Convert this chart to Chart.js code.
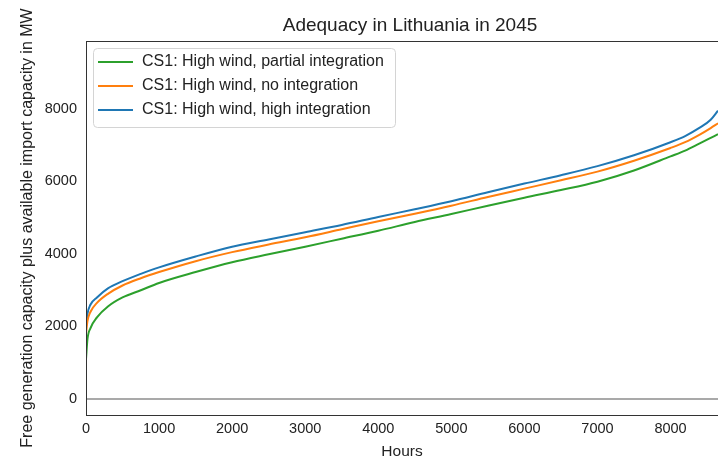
<!DOCTYPE html>
<html>
<head>
<meta charset="utf-8">
<script src="https://cdn.jsdelivr.net/npm/chart.js@4/dist/chart.umd.min.js"></script>
<style>
  html, body { margin: 0; padding: 0; background: #fff; }
  #wrap { width: 718px; height: 461px; }
</style>
</head>
<body>
<div id="wrap"><canvas id="c"></canvas></div>
<script>
// hours along the duration curve
const hours = [0, 20, 60, 150, 300, 500, 750, 1000, 1500, 2000, 2500, 3000, 3500, 4000,
  4500, 5000, 5500, 6000, 6500, 7000, 7500, 8000, 8200, 8400, 8550, 8650];

const partialIntegration = [1100, 1650, 1950, 2250, 2550, 2800, 3000, 3200, 3500, 3770, 3990, 4200, 4420, 4640,
  4880, 5100, 5330, 5550, 5760, 5990, 6300, 6690, 6850, 7050, 7200, 7300];
const noIntegration = [1800, 2150, 2400, 2650, 2900, 3130, 3330, 3500, 3800, 4050, 4260, 4460, 4680, 4900,
  5110, 5330, 5570, 5800, 6030, 6270, 6570, 6920, 7080, 7290, 7470, 7600];
const highIntegration = [2000, 2350, 2600, 2800, 3050, 3250, 3450, 3630, 3930, 4200, 4400, 4600, 4800, 5020,
  5230, 5450, 5700, 5940, 6170, 6420, 6720, 7080, 7250, 7480, 7700, 7950];

const seriesNames = ['CS1: High wind, partial integration', 'CS1: High wind, no integration', 'CS1: High wind, high integration'];
const xTicks = [0, 1000, 2000, 3000, 4000, 5000, 6000, 7000, 8000];
const yTicks = [0, 2000, 4000, 6000, 8000];

const FONT = "'Liberation Sans', Arial, sans-serif";

const pts = vals => vals.map((v, i) => ({ x: hours[i], y: v }));

// title, frame and in-plot legend
const decor = {
  id: 'decor',
  afterDraw(chart) {
    const ctx = chart.ctx;
    const a = chart.chartArea;
    ctx.save();
    ctx.strokeStyle = '#333';
    ctx.lineWidth = 1;
    ctx.strokeRect(a.left + 0.5, a.top + 0.5, a.right - a.left, a.bottom - a.top);

    ctx.fillStyle = '#222';
    ctx.font = '19px ' + FONT;
    ctx.textAlign = 'center';
    ctx.textBaseline = 'middle';
    ctx.fillText('Adequacy in Lithuania in 2045', 410, 26);

    // legend box
    const bx = 93, by = 48, bw = 302, bh = 79;
    ctx.fillStyle = 'rgba(255,255,255,0.85)';
    ctx.strokeStyle = '#d4d4d4';
    ctx.beginPath();
    ctx.roundRect(bx + 0.5, by + 0.5, bw, bh, 4);
    ctx.fill();
    ctx.stroke();
    ctx.font = '16px ' + FONT;
    ctx.textAlign = 'left';
    chart.data.datasets.slice(0, 3).forEach((ds, i) => {
      const y = by + 14 + i * 24;
      ctx.strokeStyle = ds.borderColor;
      ctx.lineWidth = 2;
      ctx.beginPath();
      ctx.moveTo(bx + 5, y);
      ctx.lineTo(bx + 40, y);
      ctx.stroke();
      ctx.fillStyle = '#222';
      ctx.fillText(ds.label, bx + 49, y);
    });
    ctx.restore();
  }
};

new Chart(document.getElementById('c'), {
  type: 'line',
  data: {
    datasets: [
      { label: seriesNames[0], data: pts(partialIntegration), borderColor: '#2ca02c', borderWidth: 2, pointRadius: 0, cubicInterpolationMode: 'monotone' },
      { label: seriesNames[1], data: pts(noIntegration), borderColor: '#ff7f0e', borderWidth: 2, pointRadius: 0, cubicInterpolationMode: 'monotone' },
      { label: seriesNames[2], data: pts(highIntegration), borderColor: '#1f77b4', borderWidth: 2, pointRadius: 0, cubicInterpolationMode: 'monotone' },
      { label: 'zero', data: [{ x: 0, y: 0 }, { x: 8650, y: 0 }], borderColor: '#8c8c8c', borderWidth: 1.5, pointRadius: 0 }
    ]
  },
  options: {
    responsive: true,
    maintainAspectRatio: false,
    animation: false,
    layout: { padding: { top: 41, right: 0, left: 0, bottom: 0 } },
    plugins: { legend: { display: false }, title: { display: false }, tooltip: { enabled: false } },
    scales: {
      x: {
        type: 'linear',
        min: 0,
        max: 8650,
        afterBuildTicks: s => { s.ticks = xTicks.map(v => ({ value: v })); },
        afterFit: s => { s.height = 46; },
        grid: { display: false, drawTicks: true, tickLength: 4, tickColor: '#333' },
        border: { color: '#333' },
        ticks: { color: '#222', font: { family: FONT, size: 14.5 }, padding: 1, maxRotation: 0, autoSkip: false, callback: v => String(v) },
        title: { display: true, text: 'Hours', color: '#222', font: { family: FONT, size: 15.5 }, padding: { top: 0, bottom: 0 } }
      },
      y: {
        min: -440,
        max: 9870,
        afterBuildTicks: s => { s.ticks = yTicks.map(v => ({ value: v })); },
        afterFit: s => { s.width = 86; },
        grid: { display: false, drawTicks: true, tickLength: 4, tickColor: '#333' },
        border: { color: '#333' },
        ticks: { color: '#222', font: { family: FONT, size: 14.5 }, padding: 5, callback: v => String(v) },
        title: { display: true, text: 'Free generation capacity plus available import capacity in MW', color: '#222', font: { family: FONT, size: 16 }, padding: { top: 18, bottom: 0 } }
      }
    }
  },
  plugins: [decor]
});
</script>
</body>
</html>
